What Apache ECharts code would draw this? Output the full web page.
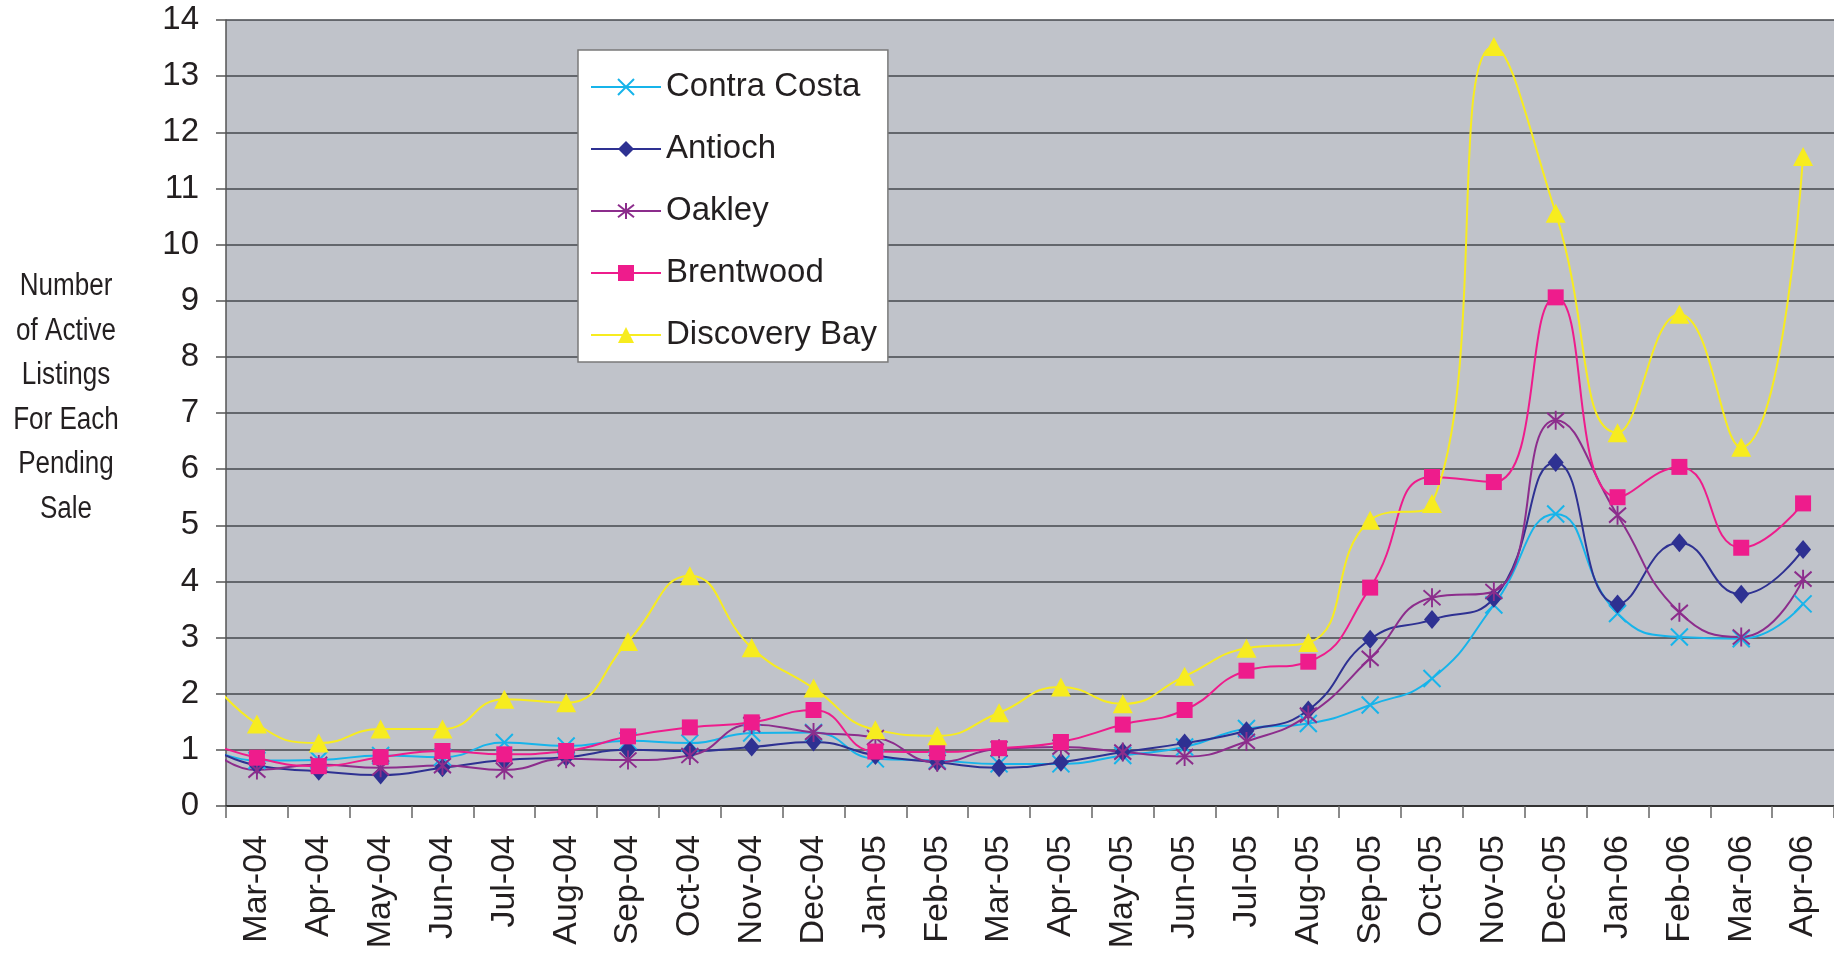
<!DOCTYPE html>
<html>
<head>
<meta charset="utf-8">
<script src="https://cdn.jsdelivr.net/npm/echarts@6/dist/echarts.min.js"></script>
<style>
html,body{margin:0;padding:0;background:#fff;}
#chart{width:1834px;height:954px;}
</style>
</head>
<body>
<div id="chart"></div>
<script>
// first entry (Feb-04) lies just outside the plotted range; only its line segment shows at the left edge
const months = ['Feb-04','Mar-04','Apr-04','May-04','Jun-04','Jul-04','Aug-04','Sep-04','Oct-04','Nov-04','Dec-04',
  'Jan-05','Feb-05','Mar-05','Apr-05','May-05','Jun-05','Jul-05','Aug-05','Sep-05','Oct-05','Nov-05','Dec-05',
  'Jan-06','Feb-06','Mar-06','Apr-06'];
const contraCosta = [1.17,0.81,0.82,0.90,0.87,1.13,1.07,1.16,1.12,1.30,1.31,0.84,0.81,0.75,0.75,0.90,1.05,1.38,1.47,1.80,2.27,3.58,5.20,3.43,3.01,2.98,3.60];
const antioch     = [1.20,0.72,0.62,0.55,0.68,0.82,0.87,1.00,0.98,1.05,1.14,0.90,0.78,0.68,0.78,0.96,1.12,1.34,1.71,2.97,3.32,3.70,6.12,3.60,4.69,3.77,4.57];
const oakley      = [1.28,0.64,0.74,0.68,0.72,0.64,0.84,0.82,0.90,1.45,1.31,1.22,0.78,1.02,1.05,0.96,0.88,1.15,1.62,2.63,3.71,3.82,6.87,5.18,3.45,3.01,4.04];
const brentwood   = [1.22,0.86,0.71,0.87,0.98,0.92,0.98,1.24,1.40,1.49,1.71,0.97,0.96,1.03,1.14,1.45,1.71,2.41,2.57,3.89,5.86,5.77,9.06,5.50,6.04,4.60,5.39];
const discoveryBay= [2.60,1.46,1.12,1.37,1.37,1.90,1.84,2.93,4.10,2.82,2.10,1.36,1.25,1.66,2.12,1.82,2.31,2.81,2.91,5.09,5.39,13.53,10.56,6.65,8.76,6.39,11.57];
const yTicks = [0,1,2,3,4,5,6,7,8,9,10,11,12,13,14];
const yTitle = ['Number','of Active','Listings','For Each','Pending','Sale'];

const REG = "'Liberation Sans',Arial,sans-serif";
const TXT = '#231F20';

function pts(arr){ return arr.map((v,i)=>[i-1, v]); }

const seriesDefs = [
  {name:'Contra Costa', data:contraCosta, color:'#17B4EA', symbol:'path://M0,0L17,17M17,0L0,17', size:17, stroke:true},
  {name:'Antioch', data:antioch, color:'#2E3192', symbol:'diamond', size:[16,19]},
  {name:'Oakley', data:oakley, color:'#8C2D8C', symbol:'path://M1,2L16,17M16,2L1,17M8.5,0L8.5,19', size:[17,19], stroke:true},
  {name:'Brentwood', data:brentwood, color:'#EE1C8C', symbol:'rect', size:16},
  {name:'Discovery Bay', data:discoveryBay, color:'#F7EC1F', symbol:'triangle', size:[20,19]}
];

const chart = echarts.init(document.getElementById('chart'), null, {renderer:'canvas'});
chart.setOption({
  animation:false,
  backgroundColor:'#ffffff',
  grid:{left:226, top:20, width:1612, height:786, show:true, backgroundColor:'#C0C3CA', borderWidth:0, containLabel:false},
  legend:{
    orient:'vertical', left:578, top:50,
    backgroundColor:'#ffffff', borderColor:'#7a7a7a', borderWidth:1.5,
    padding:[17,11,7,12], itemGap:22, itemWidth:70, itemHeight:20,
    textStyle:{fontFamily:REG, fontSize:33, color:TXT, lineHeight:40},
    data: seriesDefs.map(s=>s.name)
  },
  xAxis:[
    {type:'category', data:months.slice(1), boundaryGap:true,
     axisLine:{show:true, lineStyle:{color:'#333', width:2}},
     axisTick:{show:true, length:12, lineStyle:{color:'#666', width:1.5}},
     axisLabel:{rotate:90, interval:0, margin:29, fontFamily:REG, fontSize:34, color:TXT},
     splitLine:{show:false}},
    {type:'value', min:-0.5, max:25.5, show:false}
  ],
  yAxis:{type:'value', min:0, max:14, interval:1,
    axisLine:{show:true, onZero:false, lineStyle:{color:'#555', width:1.5}},
    axisTick:{show:true, length:10, lineStyle:{color:'#555', width:1.5}},
    axisLabel:{margin:27, fontFamily:REG, fontSize:33, color:TXT,
      formatter:(v)=> yTicks.indexOf(v)>=0 ? String(v) : ''},
    splitLine:{show:true, lineStyle:{color:'#45474c', width:1.6}}
  },
  graphic:[{
    type:'text', x:66, y:398, scaleX:0.84, silent:true,
    style:{text:yTitle.join('\n'), textAlign:'center', textVerticalAlign:'middle',
      font:"31px "+REG, lineHeight:44.6, fill:TXT}
  }],
  series: seriesDefs.map(s=>({
    name:s.name, type:'line', xAxisIndex:1, yAxisIndex:0,
    data:pts(s.data), smooth:0.5, clip:true,
    symbol:s.symbol, symbolSize:s.size, showSymbol:true,
    lineStyle:{color:s.color, width:2},
    itemStyle: s.stroke ? {color:s.color, borderColor:s.color, borderWidth:2} : {color:s.color, borderWidth:0},
    emphasis:{disabled:true}
  }))
});
</script>
</body>
</html>
